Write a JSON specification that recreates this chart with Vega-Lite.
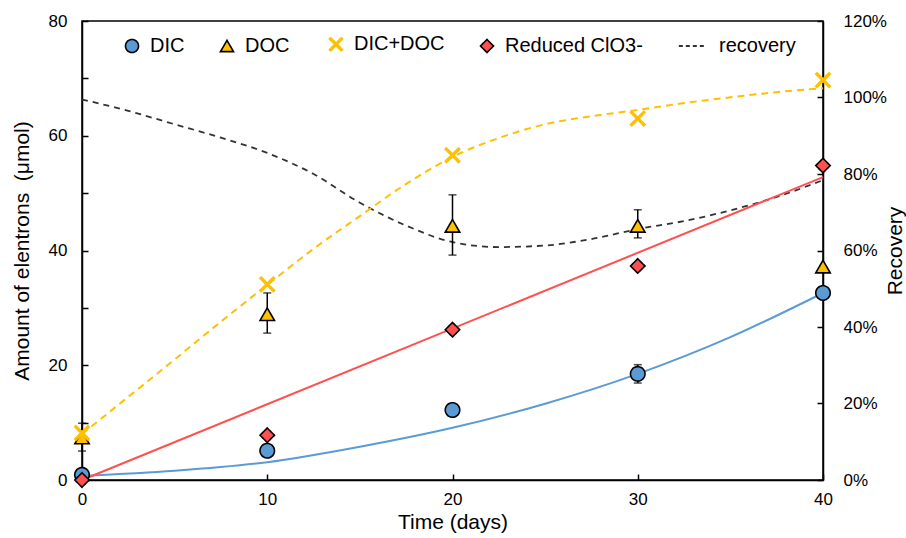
{
  "$schema": "https://vega.github.io/schema/vega-lite/v6.json",
  "width": 741,
  "height": 459,
  "autosize": "none",
  "padding": {"left": 82, "top": 21, "right": 83, "bottom": 58},
  "background": "white",
  "config": {
    "font": "Liberation Sans",
    "view": {"stroke": "#000", "strokeWidth": 1.5},
    "axis": {
      "grid": false,
      "domainColor": "#000",
      "domainWidth": 1.5,
      "tickColor": "#000",
      "tickWidth": 1.5,
      "tickSize": -6,
      "labelFlush": false,
      "labelColor": "#000",
      "labelFontSize": 17,
      "labelFont": "Liberation Sans",
      "titleColor": "#000",
      "titleFontSize": 21,
      "titleFontWeight": "normal",
      "titleFont": "Liberation Sans"
    },
    "legend": {
      "labelFont": "Liberation Sans",
      "labelFontSize": 20,
      "labelColor": "#000"
    }
  },
  "datasets": {
    "pts": [
      {"series": "DIC", "day": 0, "v": 0.9},
      {"series": "DIC", "day": 10, "v": 5.1},
      {"series": "DIC", "day": 20, "v": 12.2},
      {"series": "DIC", "day": 30, "v": 18.5},
      {"series": "DIC", "day": 40, "v": 32.6},
      {"series": "DOC", "day": 0, "v": 7.4},
      {"series": "DOC", "day": 10, "v": 28.9},
      {"series": "DOC", "day": 20, "v": 44.3},
      {"series": "DOC", "day": 30, "v": 44.3},
      {"series": "DOC", "day": 40, "v": 37.2},
      {"series": "DIC+DOC", "day": 0, "v": 8.2},
      {"series": "DIC+DOC", "day": 10, "v": 34.1},
      {"series": "DIC+DOC", "day": 20, "v": 56.6},
      {"series": "DIC+DOC", "day": 30, "v": 63.0},
      {"series": "DIC+DOC", "day": 40, "v": 69.7},
      {"series": "Reduced ClO3-", "day": 0, "v": 0},
      {"series": "Reduced ClO3-", "day": 10, "v": 7.8},
      {"series": "Reduced ClO3-", "day": 20, "v": 26.2},
      {"series": "Reduced ClO3-", "day": 30, "v": 37.3},
      {"series": "Reduced ClO3-", "day": 40, "v": 54.8}
    ],
    "err": [
      {"series": "DOC", "day": 0, "lo": 5.05, "hi": 9.9},
      {"series": "DOC", "day": 10, "lo": 25.6, "hi": 32.6},
      {"series": "DOC", "day": 20, "lo": 39.2, "hi": 49.7},
      {"series": "DOC", "day": 30, "lo": 42.2, "hi": 47.1},
      {"series": "DIC", "day": 30, "lo": 16.9, "hi": 20.1}
    ],
    "fits": [
      {"fit": "dic", "day": 0, "v": 0.7},
      {"fit": "dic", "day": 5, "v": 1.6},
      {"fit": "dic", "day": 10, "v": 3.1},
      {"fit": "dic", "day": 15, "v": 5.8},
      {"fit": "dic", "day": 20, "v": 9.1},
      {"fit": "dic", "day": 25, "v": 13.3},
      {"fit": "dic", "day": 30, "v": 18.5},
      {"fit": "dic", "day": 35, "v": 24.9},
      {"fit": "dic", "day": 40, "v": 32.6},
      {"fit": "red", "day": 0, "v": 0},
      {"fit": "red", "day": 40, "v": 52.8},
      {"fit": "sum", "day": 0, "v": 8.0},
      {"fit": "sum", "day": 2.5, "v": 14.5},
      {"fit": "sum", "day": 5, "v": 21.0},
      {"fit": "sum", "day": 7.5, "v": 27.6},
      {"fit": "sum", "day": 10, "v": 34.0},
      {"fit": "sum", "day": 12.5, "v": 40.3},
      {"fit": "sum", "day": 15, "v": 46.0},
      {"fit": "sum", "day": 17.5, "v": 51.6},
      {"fit": "sum", "day": 20, "v": 56.3},
      {"fit": "sum", "day": 22.5, "v": 59.6},
      {"fit": "sum", "day": 25, "v": 62.0},
      {"fit": "sum", "day": 27.5, "v": 63.4},
      {"fit": "sum", "day": 30, "v": 64.5},
      {"fit": "sum", "day": 32.5, "v": 65.7},
      {"fit": "sum", "day": 35, "v": 66.7},
      {"fit": "sum", "day": 37.5, "v": 67.6},
      {"fit": "sum", "day": 40, "v": 68.3}
    ],
    "rec": [
      {"day": 0, "r": 0.995},
      {"day": 2.5, "r": 0.965},
      {"day": 5, "r": 0.93},
      {"day": 7.5, "r": 0.895},
      {"day": 10, "r": 0.855},
      {"day": 12.5, "r": 0.80},
      {"day": 15, "r": 0.725},
      {"day": 17.5, "r": 0.665},
      {"day": 20, "r": 0.622},
      {"day": 22.5, "r": 0.609},
      {"day": 25, "r": 0.613},
      {"day": 27.5, "r": 0.63},
      {"day": 30, "r": 0.656},
      {"day": 32.5, "r": 0.677},
      {"day": 35, "r": 0.705},
      {"day": 37.5, "r": 0.74},
      {"day": 40, "r": 0.784}
    ]
  },
  "layer": [
    {
      "data": {"name": "rec"},
      "mark": {"type": "line", "interpolate": "monotone", "color": "#333333", "strokeWidth": 1.8, "strokeDash": [6, 5]},
      "encoding": {
        "x": {"field": "day", "type": "quantitative", "scale": {"domain": [0, 40], "nice": false}},
        "y": {
          "field": "r", "type": "quantitative",
          "scale": {"domain": [0, 1.2], "nice": false},
          "axis": {
            "orient": "right", "title": "Recovery", "titleAngle": 270,
            "values": [0, 0.2, 0.4, 0.6, 0.8, 1.0, 1.2], "format": ".0%",
            "labelPadding": 26, "titlePadding": 19
          }
        }
      }
    },
    {
      "layer": [
        {
          "data": {"name": "fits"},
          "transform": [{"filter": "datum.fit === 'dic'"}],
          "mark": {"type": "line", "interpolate": "monotone", "color": "#5B9BD5", "strokeWidth": 2},
          "encoding": {
            "x": {"field": "day", "type": "quantitative"},
            "y": {"field": "v", "type": "quantitative"}
          }
        },
        {
          "data": {"name": "fits"},
          "transform": [{"filter": "datum.fit === 'red'"}],
          "mark": {"type": "line", "color": "#FF5050", "strokeWidth": 2},
          "encoding": {
            "x": {"field": "day", "type": "quantitative"},
            "y": {"field": "v", "type": "quantitative"}
          }
        },
        {
          "data": {"name": "fits"},
          "transform": [{"filter": "datum.fit === 'sum'"}],
          "mark": {"type": "line", "interpolate": "monotone", "color": "#FFC000", "strokeWidth": 2, "strokeDash": [7, 5]},
          "encoding": {
            "x": {"field": "day", "type": "quantitative"},
            "y": {"field": "v", "type": "quantitative"}
          }
        },
        {
          "data": {"name": "err"},
          "mark": {"type": "rule", "color": "#000", "strokeWidth": 1.5},
          "encoding": {
            "x": {"field": "day", "type": "quantitative"},
            "y": {"field": "lo", "type": "quantitative"},
            "y2": {"field": "hi"}
          }
        },
        {
          "data": {"name": "err"},
          "transform": [{"fold": ["lo", "hi"], "as": ["k", "ev"]}],
          "mark": {"type": "tick", "orient": "horizontal", "color": "#000", "size": 8, "thickness": 1.5},
          "encoding": {
            "x": {"field": "day", "type": "quantitative"},
            "y": {"field": "ev", "type": "quantitative"}
          }
        },
        {
          "data": {"name": "pts"},
          "mark": {"type": "point", "filled": true, "opacity": 1, "size": 210},
          "encoding": {
            "x": {
              "field": "day", "type": "quantitative",
              "scale": {"domain": [0, 40], "nice": false},
              "axis": {"values": [0, 10, 20, 30, 40], "title": "Time (days)", "labelPadding": 17, "titlePadding": 4}
            },
            "y": {
              "field": "v", "type": "quantitative",
              "scale": {"domain": [0, 80], "nice": false},
              "axis": {
                "orient": "left", "title": "Amount of elentrons \u00a0(μmol)",
                "values": [0, 10, 20, 30, 40, 50, 60, 70, 80],
                "labelExpr": "datum.value % 20 === 0 ? datum.label : ''",
                "labelPadding": 21, "titlePadding": 16
              }
            },
            "fill": {
              "field": "series", "type": "nominal",
              "scale": {"domain": ["DIC", "DOC", "DIC+DOC", "Reduced ClO3-", "recovery"], "range": ["#5B9BD5", "#FFC000", "transparent", "#FF5050", "transparent"]}
            },
            "stroke": {
              "field": "series", "type": "nominal",
              "scale": {"domain": ["DIC", "DOC", "DIC+DOC", "Reduced ClO3-", "recovery"], "range": ["#000000", "#000000", "#FFC000", "#000000", "#333333"]}
            },
            "strokeWidth": {
              "field": "series", "type": "ordinal",
              "scale": {"type": "ordinal", "domain": ["DIC", "DOC", "DIC+DOC", "Reduced ClO3-", "recovery"], "range": [1.6, 1.6, 3.4, 1.6, 1.8]}
            },
            "strokeDash": {
              "field": "series", "type": "nominal",
              "scale": {"domain": ["DIC", "DOC", "DIC+DOC", "Reduced ClO3-", "recovery"], "range": [[1, 0], [1, 0], [1, 0], [1, 0], [4, 3]]}
            },
            "shape": {
              "field": "series", "type": "nominal",
              "scale": {
                "domain": ["DIC", "DOC", "DIC+DOC", "Reduced ClO3-", "recovery"],
                "range": ["circle", "triangle-up", "M-1,-1L1,1M-1,1L1,-1", "diamond", "M-3.4,0L0.6,0"]
              },
              "legend": {
                "title": null,
                "orient": "none",
                "direction": "horizontal",
                "legendX": 40,
                "legendY": 13,
                "columns": 5,
                "columnPadding": 32,
                "symbolSize": 170,
                "labelOffset": 8
              }
            }
          }
        }
      ]
    }
  ],
  "resolve": {"scale": {"y": "independent"}}
}
